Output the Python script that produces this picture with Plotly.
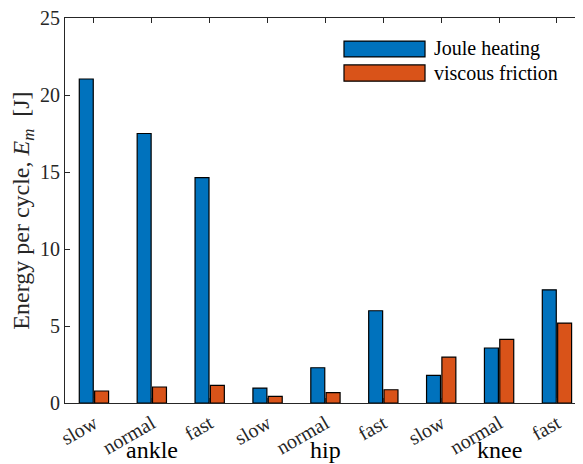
import plotly.graph_objects as go

categories = ["slow", "normal", "fast", "slow", "normal", "fast", "slow", "normal", "fast"]
groups = ["ankle", "hip", "knee"]
joule = [21.04, 17.5, 14.64, 0.97, 2.29, 5.99, 1.79, 3.57, 7.35]
viscous = [0.78, 1.04, 1.14, 0.43, 0.67, 0.86, 2.98, 4.13, 5.19]
series_names = ["Joule heating", "viscous friction"]
colors = ["#0072BD", "#D95319"]

FONT = "Liberation Serif"
xpos = list(range(len(categories)))

fig = go.Figure()
for name, vals, col in zip(series_names, [joule, viscous], colors):
    fig.add_trace(go.Bar(
        x=xpos, y=vals, name=name,
        marker=dict(color=col, line=dict(color="black", width=1.2)),
        showlegend=False,
    ))

# page body has an 8px margin: figure is 575x456 placed at (8, 8)
fig.update_layout(
    width=575, height=456,
    margin=dict(l=57, r=0, t=10, b=61),
    paper_bgcolor="white", plot_bgcolor="white",
    barmode="group", bargap=0.47, bargroupgap=0.09,
    font=dict(family=FONT, size=19, color="#262626"),
)
fig.update_xaxes(
    range=[-0.5, 8.45], tickmode="array", tickvals=xpos, ticktext=categories,
    tickangle=-30, showline=True, linecolor="#262626", linewidth=1, mirror="ticks",
    ticks="inside", ticklen=5, tickcolor="#262626", showgrid=False, zeroline=False,
    tickfont=dict(family=FONT, size=20, color="#262626"), automargin=False,
    ticklabeloverflow="allow",
)
fig.update_yaxes(
    range=[0, 25], tickvals=[0, 5, 10, 15, 20, 25],
    showline=True, linecolor="#262626", linewidth=1, mirror="ticks",
    ticks="inside", ticklen=5, tickcolor="#262626", showgrid=False, zeroline=False,
    tickfont=dict(family=FONT, size=20, color="#262626"), automargin=False,
    ticklabeloverflow="allow",
    title=dict(text="Energy per cycle, <i>E<sub>m</sub></i>  [J]", font=dict(family=FONT, size=24, color="#262626"), standoff=8),
)

# group labels under the category ticks
for i, g in enumerate(groups):
    fig.add_annotation(x=3 * i + 1, y=-0.122, xref="x", yref="paper", text=g,
                       showarrow=False, font=dict(family=FONT, size=24, color="black"),
                       xanchor="center", yanchor="middle")

# custom legend
leg_y = [(0.940, 0.899), (0.878, 0.836)]
for (y1, y0), name, col in zip(leg_y, series_names, colors):
    fig.add_shape(type="rect", xref="paper", yref="paper", x0=0.5386, x1=0.695, y0=y0, y1=y1,
                  fillcolor=col, line=dict(color="black", width=1.2))
    fig.add_annotation(x=0.708, y=(y0 + y1) / 2, xref="paper", yref="paper", text=name,
                       showarrow=False, xanchor="left", yanchor="middle",
                       font=dict(family=FONT, size=20, color="black"))

fig.write_html("out.html")
